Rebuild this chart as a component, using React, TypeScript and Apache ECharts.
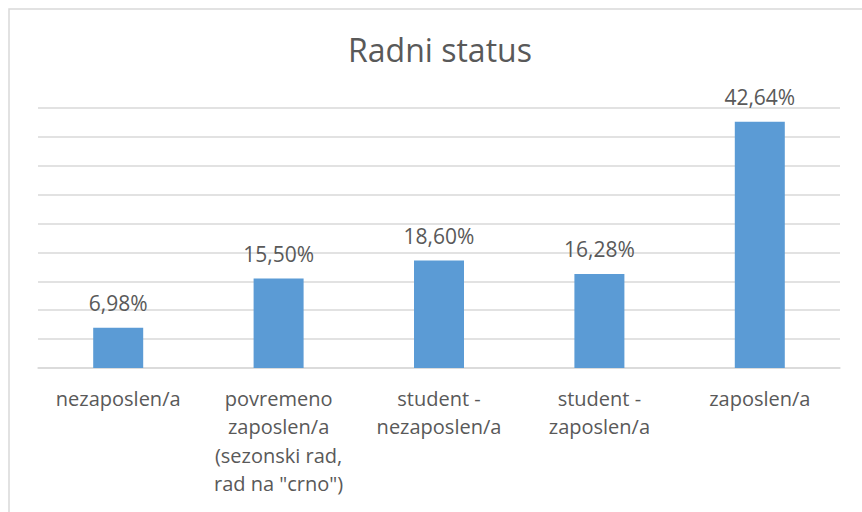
import React, { useEffect, useRef } from "react";
import * as echarts from "echarts";

const title = "Radni status";
const categories = [
  "nezaposlen/a",
  "povremeno\nzaposlen/a\n(sezonski rad,\nrad na \"crno\")",
  "student -\nnezaposlen/a",
  "student -\nzaposlen/a",
  "zaposlen/a",
];
const values = [6.98, 15.5, 18.6, 16.28, 42.64];
const yMin = 0;
const yMax = 45;
const yInterval = 5;

export default function App() {
  const ref = useRef<HTMLDivElement>(null);
  useEffect(() => {
    document.body.style.margin = "0";
    const chart = echarts.init(ref.current!, null, { renderer: "svg" });
    const font = "'Open Sans', sans-serif";
    chart.setOption({
      animation: false,
      backgroundColor: "#ffffff",
      title: {
        text: title,
        left: 435,
        textAlign: "center",
        top: 28,
        textStyle: {
          fontFamily: font,
          fontSize: 32,
          fontWeight: 400,
          color: "#595959",
        },
      },
      graphic: [
        {
          type: "rect",
          shape: { x: 9, y: 9, width: 900, height: 600 },
          style: { fill: "none", stroke: "#d9d9d9", lineWidth: 1.5 },
          silent: true,
        },
      ],
      grid: { left: 38, right: 22, top: 108, bottom: 144 },
      xAxis: {
        type: "category",
        data: categories,
        axisLine: { lineStyle: { color: "#d9d9d9", width: 1.5 } },
        axisTick: { show: false },
        axisLabel: {
          interval: 0,
          margin: 16,
          fontFamily: font,
          fontSize: 20,
          lineHeight: 28.5,
          color: "#595959",
        },
      },
      yAxis: {
        type: "value",
        min: yMin,
        max: yMax,
        interval: yInterval,
        axisLabel: { show: false },
        axisLine: { show: false },
        axisTick: { show: false },
        splitLine: { lineStyle: { color: "#d9d9d9", width: 1.5 } },
      },
      series: [
        {
          type: "bar",
          data: values,
          barWidth: 50,
          itemStyle: { color: "#5b9bd5" },
          label: {
            show: true,
            position: "top",
            distance: 14,
            fontFamily: font,
            fontSize: 21,
            color: "#595959",
            formatter: (p: any) => p.value.toFixed(2).replace(".", ",") + "%",
          },
        },
      ],
    });
    return () => chart.dispose();
  }, []);
  return <div ref={ref} style={{ width: 862, height: 512 }} />;
}
